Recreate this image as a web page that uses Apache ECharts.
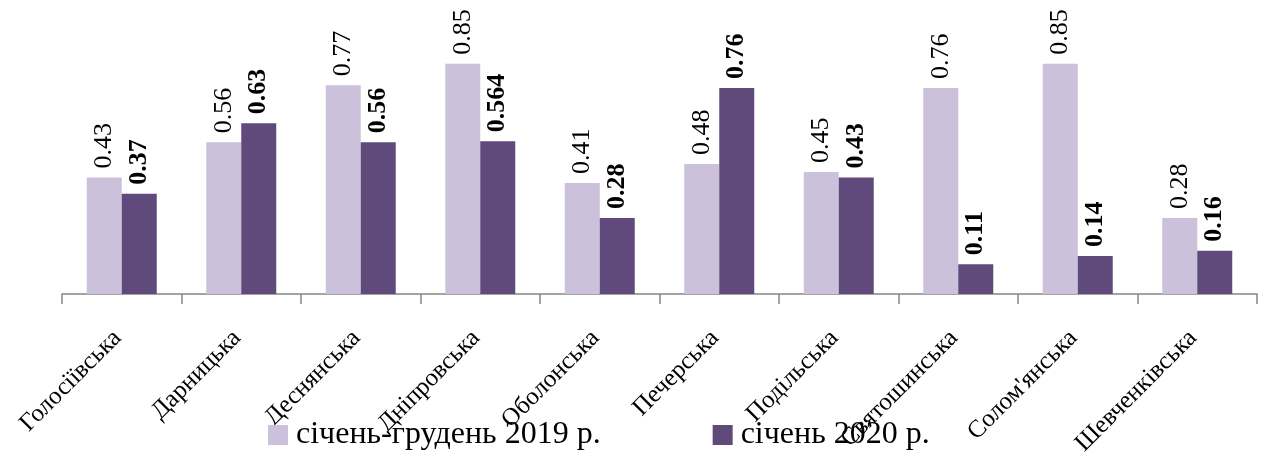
<!DOCTYPE html>
<html>
<head>
<meta charset="utf-8">
<script src="https://cdn.jsdelivr.net/npm/echarts@6/dist/echarts.min.js"></script>
<style>
  html, body { margin: 0; padding: 0; background: #fff; }
  #chart { width: 1265px; height: 452px; }
</style>
</head>
<body>
<div id="chart"></div>
<script>
// райони
const districts = ["Голосіївська", "Дарницька", "Деснянська", "Дніпровська", "Оболонська",
  "Печерська", "Подільська", "Святошинська", "Солом'янська", "Шевченківська"];
const series2019 = [0.43, 0.56, 0.77, 0.85, 0.41, 0.48, 0.45, 0.76, 0.85, 0.28];
const series2020 = [0.37, 0.63, 0.56, 0.564, 0.28, 0.76, 0.43, 0.11, 0.14, 0.16];
const seriesNames = ["січень-грудень 2019 р.", "січень 2020 р."];

const serif = "'Liberation Serif', 'DejaVu Serif', serif";
const chart = echarts.init(document.getElementById("chart"));

const valueLabel = (bold) => ({
  show: true,
  position: "top",
  rotate: 90,
  align: "left",
  verticalAlign: "middle",
  distance: 9,
  fontFamily: serif,
  fontSize: 26,
  fontWeight: bold ? "bold" : "normal",
  color: "#000",
  formatter: (p) => String(p.value),
});

chart.setOption({
  animation: false,
  grid: { left: 62, right: 8, top: 23, bottom: 158, containLabel: false, outerBoundsMode: "none" },
  legend: {
    left: 263,
    top: 414,
    itemWidth: 20,
    itemHeight: 20,
    itemGap: 112,
    icon: "rect",
    textStyle: { fontFamily: serif, fontSize: 32, color: "#000", padding: [0, 0, 0, 3] },
    data: seriesNames,
  },
  xAxis: {
    type: "category",
    data: districts,
    axisLine: { show: true, lineStyle: { color: "#868686", width: 1.5 } },
    axisTick: { show: true, interval: 0, length: 10, lineStyle: { color: "#868686", width: 1.5 } },
    axisLabel: {
      rotate: 45,
      interval: 0,
      margin: 36,
      padding: [0, 6, 0, 0],
      fontFamily: serif,
      fontSize: 25,
      color: "#000",
    },
  },
  yAxis: {
    type: "value",
    min: 0,
    max: 1,
    show: false,
  },
  series: [
    {
      name: seriesNames[0],
      type: "bar",
      data: series2019,
      barWidth: 35,
      barGap: "0%",
      itemStyle: { color: "#CCC1DA" },
      label: valueLabel(false),
    },
    {
      name: seriesNames[1],
      type: "bar",
      data: series2020,
      barWidth: 35,
      itemStyle: { color: "#604A7B" },
      label: valueLabel(true),
    },
  ],
});
</script>
</body>
</html>
